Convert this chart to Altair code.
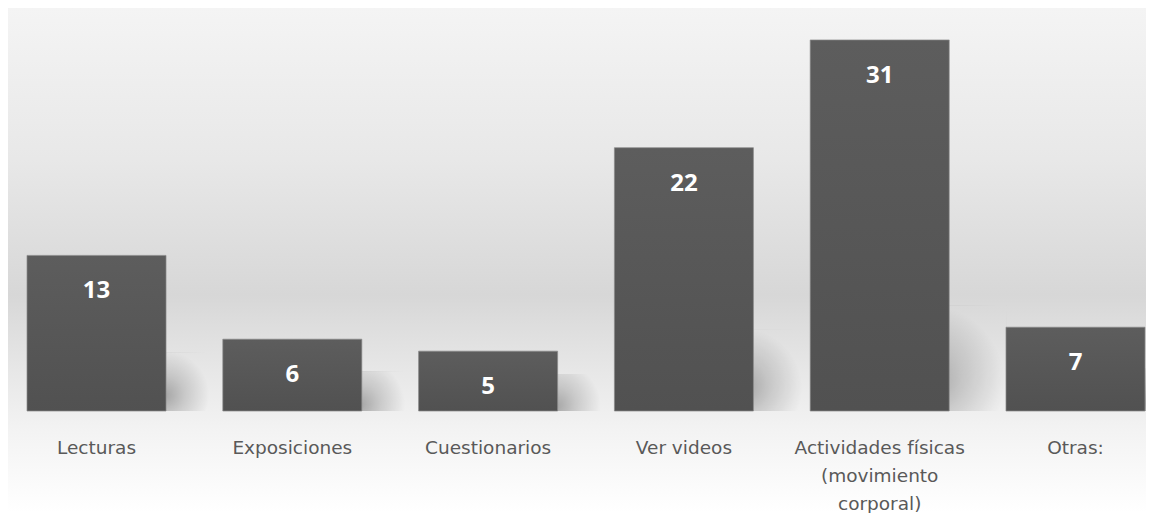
import altair as alt
import pandas as pd

categories = [
    "Lecturas",
    "Exposiciones",
    "Cuestionarios",
    "Ver videos",
    "Actividades físicas\n(movimiento\ncorporal)",
    "Otras:",
]
values = [13, 6, 5, 22, 31, 7]

df = pd.DataFrame({"cat": categories, "val": values})

W = 1138
H = 403
FULL_H = 504

x_scale = alt.Scale(domain=categories, paddingInner=0.29, paddingOuter=0.0511, align=0.95)
y_scale = alt.Scale(domain=[0, 33.67], nice=False, zero=True)

x_enc = alt.X(
    "cat:N",
    sort=categories,
    scale=x_scale,
    axis=alt.Axis(
        title=None,
        domain=False,
        ticks=False,
        labelAngle=0,
        labelFont="DejaVu Sans",
        labelFontSize=18.5,
        labelColor="#595959",
        labelBaseline="alphabetic",
        labelPadding=42,
        labelLineHeight=28,
        labelLimit=0,
        labelExpr="split(datum.label, '\\n')",
        zindex=1,
    ),
)

bg = alt.Chart(pd.DataFrame({"a": [0]})).mark_rect(
    fill=alt.Gradient(
        gradient="linear",
        x1=0, x2=0, y1=0, y2=1,
        stops=[
            alt.GradientStop(offset=0, color="#f4f4f4"),
            alt.GradientStop(offset=0.3, color="#e8e8e8"),
            alt.GradientStop(offset=0.57, color="#d7d7d7"),
            alt.GradientStop(offset=0.71, color="#e6e6e6"),
            alt.GradientStop(offset=0.84, color="#f3f3f3"),
            alt.GradientStop(offset=1, color="#ffffff"),
        ],
    )
).encode(
    x=alt.value(0), x2=alt.value(W), y=alt.value(0), y2=alt.value(FULL_H)
)

shadow = alt.Chart(df).transform_calculate(
    sh="datum.val * 0.22 + 2"
).mark_bar(
    size=62,
    xOffset=96,
    clip=True,
    fill=alt.Gradient(
        gradient="radial",
        x1=0.05, y1=0.72, r1=0,
        x2=0.05, y2=0.72, r2=0.72,
        stops=[
            alt.GradientStop(offset=0, color="rgba(0,0,0,0.30)"),
            alt.GradientStop(offset=0.45, color="rgba(0,0,0,0.15)"),
            alt.GradientStop(offset=1, color="rgba(0,0,0,0)"),
        ],
    ),
).encode(
    x=x_enc,
    y=alt.Y("sh:Q", scale=y_scale, axis=None),
)

bars = alt.Chart(df).mark_bar(
    fill=alt.Gradient(
        gradient="linear",
        x1=0, x2=0, y1=0, y2=1,
        stops=[
            alt.GradientStop(offset=0, color="#5d5d5d"),
            alt.GradientStop(offset=1, color="#515151"),
        ],
    ),
    stroke="#8a8a8a",
    strokeWidth=1,
    strokeOpacity=0.7,
).encode(
    x=x_enc,
    y=alt.Y("val:Q", scale=y_scale, axis=None),
)

labels = alt.Chart(df).mark_text(
    baseline="alphabetic",
    dy=43,
    color="white",
    font="Open Sans",
    fontSize=24,
    fontWeight="bold",
).encode(
    x=x_enc,
    y=alt.Y("val:Q", scale=y_scale, axis=None),
    text="val:Q",
)

chart = alt.layer(bg, shadow, bars, labels).properties(
    width=W, height=H, padding=0
).configure_view(stroke=None)

chart.save("out.html", embed_options={"renderer": "svg", "actions": False})
